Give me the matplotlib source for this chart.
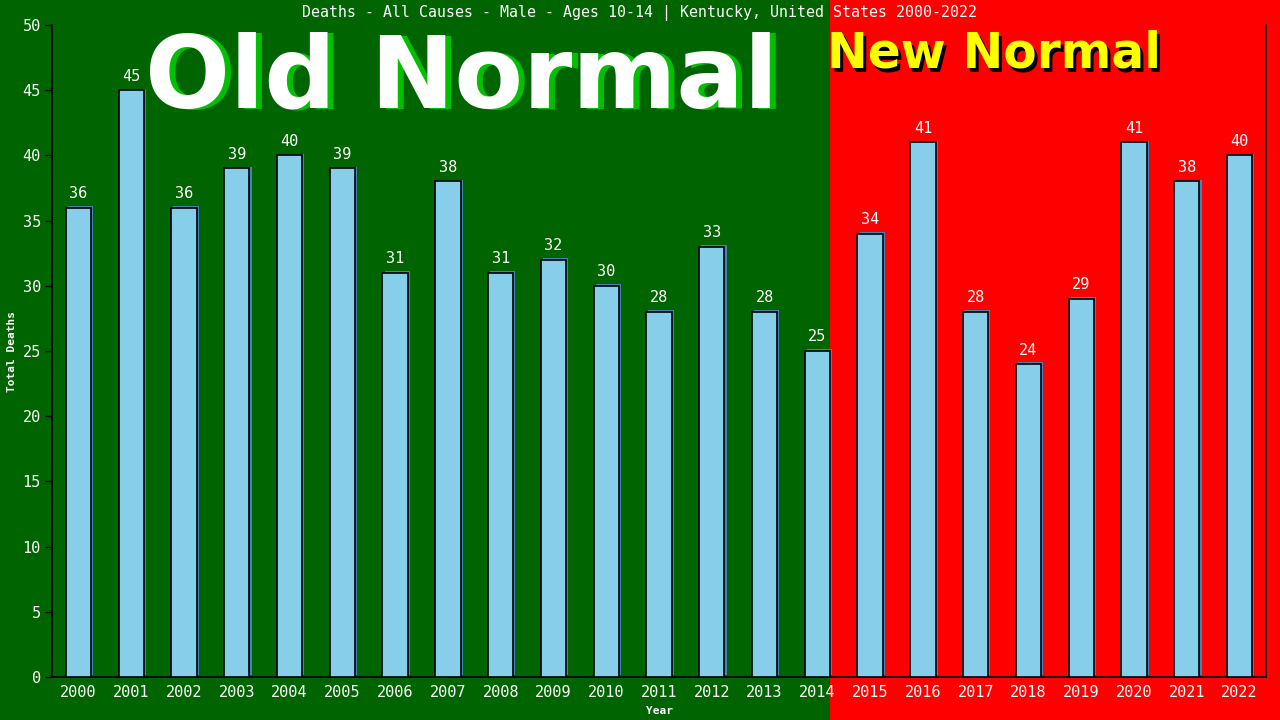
import matplotlib
matplotlib.use('Agg')
import numpy as np
from matplotlib import patches, pyplot as plt

# Chart data
years = list(range(2000, 2023))
deaths = [36, 45, 36, 39, 40, 39, 31, 38, 31, 32, 30, 28, 33, 28, 25,
          34, 41, 28, 24, 29, 41, 38, 40]
split_year = 2015
title = 'Deaths - All Causes - Male - Ages 10-14 | Kentucky, United States 2000-2022'
y_ticks = [0, 5, 10, 15, 20, 25, 30, 35, 40, 45, 50]

GREEN = '#006400'
RED = '#ff0000'
BAR = '#87ceeb'
MONO = 'DejaVu Sans Mono'


def main():
    fig = plt.figure(figsize=(12.8, 7.2), dpi=100, facecolor=GREEN)
    ax = fig.add_axes([52 / 1280, 43 / 720, 1214 / 1280, 652 / 720])
    ax.set_facecolor('none')
    ax.set_zorder(2)

    x = np.arange(len(years))
    ax.set_xlim(-0.5, len(years) - 0.5)
    ax.set_ylim(0, 50)

    # Red "new normal" background, from the edge of the last old bar to the figure edge
    split_idx = years.index(split_year)
    fig.canvas.draw()
    x_split = ax.transData.transform((split_idx - 0.76, 0))[0] / fig.bbox.width
    fig.patches.append(patches.Rectangle((x_split, 0), 1 - x_split, 1, transform=fig.transFigure,
                                         facecolor=RED, edgecolor='none', zorder=0))

    # Bars with a thin blue shadow to the right / top
    ax.bar(x + 0.04, deaths, width=0.48, bottom=0.12, color='#4682b4', zorder=2)
    ax.bar(x, deaths, width=0.48, color=BAR, edgecolor='black', linewidth=1.2, zorder=3)
    for xi, d in zip(x, deaths):
        ax.text(xi, d + 0.5, str(d), ha='center', va='bottom', color='white',
                fontsize=11, family=MONO, zorder=4)

    ax.set_xticks(x)
    ax.set_xticklabels([str(y) for y in years], family=MONO, fontsize=11, color='white')
    ax.set_yticks(y_ticks)
    ax.set_yticklabels([str(t) for t in y_ticks], family=MONO, fontsize=11, color='white')
    ax.tick_params(axis='x', length=0, pad=6)
    ax.tick_params(axis='y', length=5, color='black', width=1, pad=3)
    ax.spines['top'].set_visible(False)
    for side in ['left', 'bottom', 'right']:
        ax.spines[side].set_color('black')
        ax.spines[side].set_linewidth(1.2)

    ax.set_xlabel('Year', family=MONO, fontsize=8, fontweight='bold', color='white', labelpad=4)
    ax.set_ylabel('Total Deaths', family=MONO, fontsize=8, fontweight='bold', color='white', labelpad=4)

    fig.text(640 / 1280, 1 - 13 / 720, title, ha='center', va='center', color='white',
             family=MONO, fontsize=10.7)

    # Big "Old Normal" / "New Normal" labels with shadows
    ox, oy = 462 / 1280, 1 - 80 / 720
    fig.text(ox + 6 / 1280, oy - 1 / 720, 'Old Normal', ha='center', va='center', color='#00c000',
             fontsize=72, fontweight='bold', family='DejaVu Sans', zorder=5)
    fig.text(ox, oy, 'Old Normal', ha='center', va='center', color='white',
             fontsize=72, fontweight='bold', family='DejaVu Sans', zorder=6)
    nx, ny = 994 / 1280, 1 - 54 / 720
    fig.text(nx + 3 / 1280, ny - 3 / 720, 'New Normal', ha='center', va='center', color='black',
             fontsize=35, fontweight='bold', family='DejaVu Sans', zorder=5)
    fig.text(nx, ny, 'New Normal', ha='center', va='center', color='#ffff00',
             fontsize=35, fontweight='bold', family='DejaVu Sans', zorder=6)

    fig.savefig('out.png', dpi=100, facecolor=GREEN)


if __name__ == '__main__':
    main()
